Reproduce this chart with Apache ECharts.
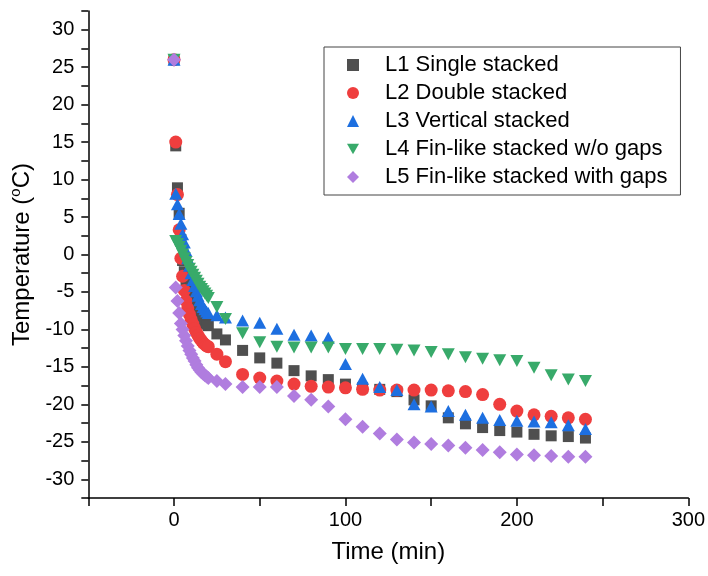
<!DOCTYPE html>
<html>
<head>
<meta charset="utf-8">
<script src="https://cdn.jsdelivr.net/npm/echarts@6/dist/echarts.min.js"></script>
<style>
  html, body { margin: 0; padding: 0; background: #fff; }
  #chart { width: 708px; height: 576px; }
</style>
</head>
<body>
<div id="chart"></div>
<script>
// sampling times (min)
var times = [0, 1, 2, 3, 4, 5, 6, 7, 8, 9, 10, 11, 12, 13, 14, 15, 16, 17, 18, 19, 20, 25, 30,
  40, 50, 60, 70, 80, 90, 100, 110, 120, 130, 140, 150, 160, 170, 180, 190, 200, 210, 220, 230, 240];

var l1 = [26, 14.5, 8.9, 5.5, 2.0, -0.8, -2.3, -3.6, -4.6, -5.4, -6.1, -6.7, -7.2, -7.6, -8.0, -8.3, -8.6, -8.9, -9.1, -9.3, -9.5, -10.6, -11.4,
  -12.8, -13.8, -14.5, -15.5, -16.2, -16.7, -17.3, -17.8, -18.0, -18.3, -19.4, -20.2, -21.8, -22.6, -23.1, -23.5, -23.7, -24.0, -24.2, -24.3, -24.5];
var l2 = [26, 15.0, 8.0, 3.3, -0.5, -2.9, -4.8, -6.2, -7.2, -8.0, -8.7, -9.3, -9.9, -10.4, -10.8, -11.2, -11.5, -11.8, -12.0, -12.2, -12.3, -13.3, -14.3,
  -16.0, -16.5, -16.9, -17.3, -17.6, -17.7, -17.8, -18.0, -18.1, -18.1, -18.1, -18.1, -18.2, -18.3, -18.7, -20.0, -20.9, -21.4, -21.6, -21.8, -22.0];
var l3 = [26, 8.1, 6.7, 5.4, 4.1, 2.7, 1.6, 0.5, -0.5, -1.5, -2.5, -3.4, -4.2, -4.9, -5.5, -6.1, -6.6, -7.0, -7.3, -7.6, -7.8, -8.1, -8.4,
  -8.8, -9.1, -9.9, -10.7, -10.8, -11.1, -14.6, -16.6, -17.7, -18.1, -20.0, -20.3, -20.9, -21.4, -21.8, -22.1, -22.2, -22.3, -22.4, -22.8, -23.3];
var l4 = [26, 1.8, 1.4, 1.0, 0.5, 0.0, -0.5, -1.0, -1.4, -1.9, -2.3, -2.7, -3.1, -3.5, -3.9, -4.3, -4.6, -4.9, -5.2, -5.5, -5.8, -7.0, -8.6,
  -10.5, -11.7, -12.3, -12.4, -12.4, -12.4, -12.6, -12.6, -12.6, -12.7, -12.8, -13.0, -13.3, -13.7, -13.9, -14.1, -14.2, -15.1, -16.1, -16.7, -16.9];
var l5 = [26, -4.4, -6.2, -7.8, -9.2, -10.0, -10.8, -11.5, -12.2, -12.8, -13.3, -13.8, -14.2, -14.7, -15.1, -15.4, -15.7, -15.9, -16.1, -16.3, -16.5, -16.9, -17.3,
  -17.7, -17.7, -17.7, -18.9, -19.4, -20.3, -22.0, -23.0, -23.9, -24.7, -25.1, -25.3, -25.5, -25.8, -26.1, -26.4, -26.7, -26.8, -26.9, -27.0, -27.0];

var names = ['L1 Single stacked', 'L2 Double stacked', 'L3 Vertical stacked', 'L4 Fin-like stacked w/o gaps', 'L5 Fin-like stacked with gaps'];
var values = [l1, l2, l3, l4, l5];
var colors = ['#4f4f4f', '#ef3e3e', '#1d6fe0', '#38aa6a', '#b07ddf'];
var symbols = ['rect', 'circle', 'triangle', 'path://M0,0L10,0L5,8.7Z', 'diamond'];
var sizes = [11, 13, [13, 12], [13, 12], 14];

var myChart = echarts.init(document.getElementById('chart'));

var series = names.map(function (n, i) {
  return {
    name: n,
    type: 'scatter',
    symbol: symbols[i],
    symbolSize: sizes[i],
    itemStyle: { color: colors[i], opacity: 1 },
    data: times.map(function (t, k) { return [t, values[i][k]]; })
  };
});

var font = 'Liberation Sans, Arial, sans-serif';

var option = {
  animation: false,
  textStyle: { fontFamily: font },
  grid: { left: 87, top: 11, right: 18, bottom: 78 },
  legend: {
    orient: 'vertical',
    left: 324,
    top: 47,
    padding: [7, 13, 7, 23],
    itemWidth: 12,
    itemHeight: 12,
    itemGap: 6,
    borderColor: '#444',
    borderWidth: 1,
    formatter: function (n) { return '{g|}' + n; },
    textStyle: {
      fontSize: 22, lineHeight: 22, color: '#000', fontFamily: font,
      rich: { g: { width: 21 } }
    },
    data: names
  },
  xAxis: {
    type: 'value',
    min: -50,
    max: 300,
    interval: 50,
    name: 'Time (min)',
    nameLocation: 'middle',
    nameGap: 42,
    nameTextStyle: { fontSize: 24, color: '#000', fontFamily: font },
    axisLine: { onZero: false, lineStyle: { color: '#000', width: 1.5 } },
    axisTick: { length: 8, lineStyle: { color: '#000', width: 1.5 } },
    axisLabel: {
      fontSize: 20, color: '#000', margin: 12, fontFamily: font,
      formatter: function (v) { return v % 100 === 0 ? String(v) : ''; }
    },
    splitLine: { show: false }
  },
  yAxis: {
    type: 'value',
    min: -32.5,
    max: 32.5,
    interval: 2.5,
    name: 'Temperature ({sup|o}C)',
    nameLocation: 'middle',
    nameGap: 50,
    nameTextStyle: {
      fontSize: 24, color: '#000', fontFamily: font,
      rich: { sup: { fontSize: 15, padding: [0, 0, 14, 0], color: '#000', fontFamily: font } }
    },
    axisLine: { onZero: false, lineStyle: { color: '#000', width: 1.5 } },
    axisTick: { length: 7, lineStyle: { color: '#000', width: 1.5 } },
    axisLabel: {
      fontSize: 20, color: '#000', margin: 14, fontFamily: font,
      formatter: function (v) { return v % 5 === 0 ? String(v) : ''; }
    },
    splitLine: { show: false }
  },
  series: series
};

myChart.setOption(option);
</script>
</body>
</html>
